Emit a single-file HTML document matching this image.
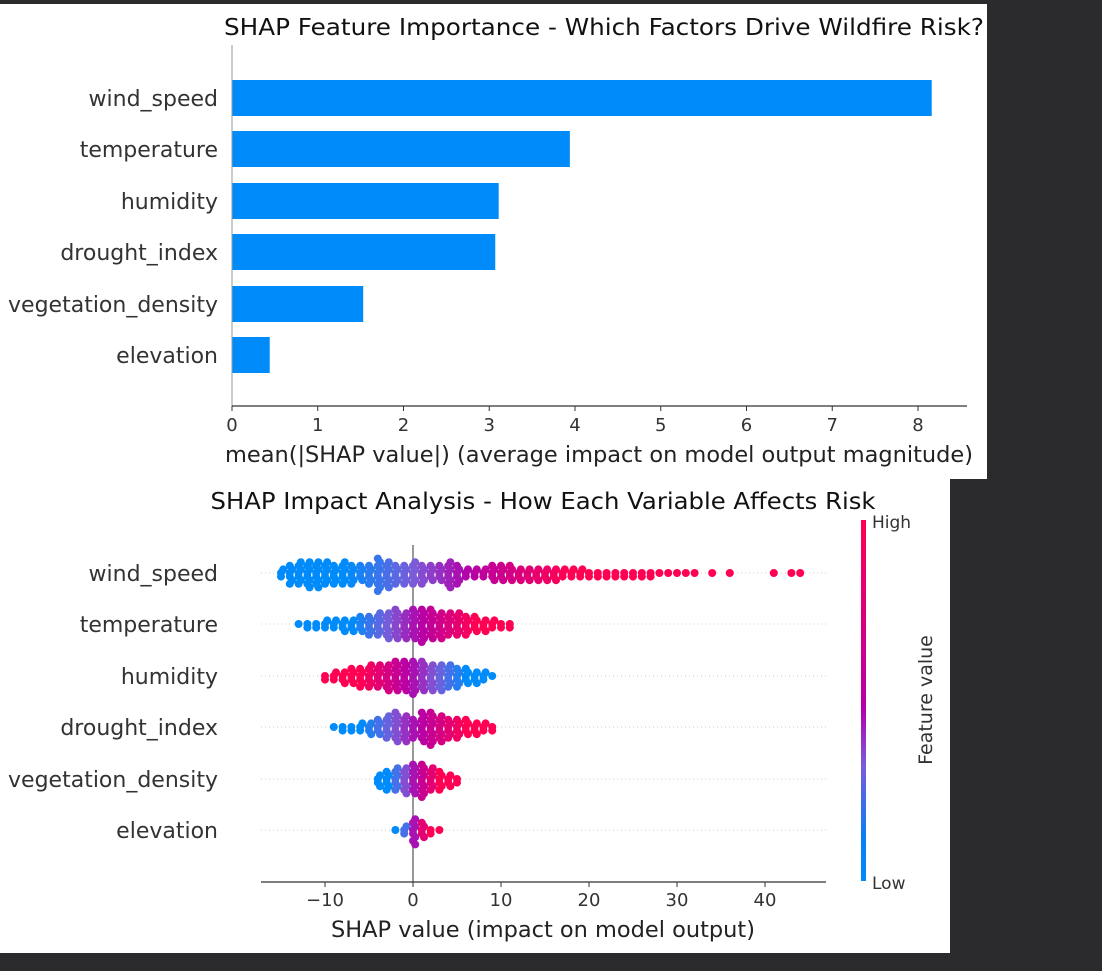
<!DOCTYPE html>
<html><head><meta charset="utf-8"><style>
body{margin:0;background:#2b2b2d;width:1102px;height:967px;overflow:hidden;font-family:"DejaVu Sans","Liberation Sans",sans-serif}
</style></head><body>
<svg id="svg" width="1102" height="967" xmlns="http://www.w3.org/2000/svg">
<defs><linearGradient id="cg" x1="0" y1="1" x2="0" y2="0">
<stop offset="0" stop-color="#008bfb"/><stop offset="0.12" stop-color="#0a7ef5"/><stop offset="0.32" stop-color="#7b5bd8"/><stop offset="0.48" stop-color="#b400a8"/><stop offset="1" stop-color="#ff0052"/></linearGradient></defs>
<rect x="0" y="4" width="987" height="475" fill="#fff"/>
<rect x="0" y="479" width="950" height="474" fill="#fff"/>
<g id="topg"></g>
<g id="botg"></g>
</svg>
<script>
const features=["wind_speed","temperature","humidity","drought_index","vegetation_density","elevation"];
const meanAbs=[8.16,3.94,3.11,3.07,1.53,0.44];
const topTicks=[0,1,2,3,4,5,6,7,8];
const botTicks=[-10,0,10,20,30,40];
const binStart=[-15,-13,-10,-9,-4,-2];
const windCounts=[3,6,7,8,8,7,6,7,6,5,6,10,8,6,6,7,6,5,5,8,6,3,3,3,5,5,5,4,4,4,4,4,3,3,3,2,2,2,2,2,2,2,2,1,1,1,1,1,0,1,0,1,0,0,0,0,1,0,1,1];
const tempCounts=[1,2,2,3,3,4,4,5,6,7,8,9,8,9,10,9,8,7,7,6,5,4,3,2,2];
const humCounts=[2,3,4,5,6,7,7,8,9,9,10,9,8,8,7,6,5,4,3,1];
const droughtCounts=[1,2,2,3,4,5,7,9,8,6,9,10,8,6,6,5,4,3,2];
const vegCounts=[4,6,7,8,9,10,7,6,4,2];
const elevCounts=[1,3,8,5,2,1];
const colorMid=[5,0,0,0,0,0];
const colorSpan=[25,14,12,12,6,3];
const colorDir=[1,1,-1,1,1,1];

const NS="http://www.w3.org/2000/svg";
function mk(p,tag,a,txt){const e=document.createElementNS(NS,tag);for(const k in a)e.setAttribute(k,a[k]);if(txt!==undefined)e.textContent=txt;p.appendChild(e);return e;}
const rowsY=[98,149,201,252,304,355];
const topG=document.getElementById('topg');
const xT=v=>232+v*85.75;
let t=mk(topG,'text',{x:604,y:35,'text-anchor':'middle','font-size':'23',fill:'#111',textLength:760,lengthAdjust:'spacingAndGlyphs'},"SHAP Feature Importance - Which Factors Drive Wildfire Risk?");

features.forEach((f,i)=>{
  const r=mk(topG,'rect',{x:xT(0),y:rowsY[i]-18,width:xT(meanAbs[i])-xT(0),height:36,fill:'#008bfb'});
  
  const l=mk(topG,'text',{x:218,y:rowsY[i]+8,'text-anchor':'end','font-size':'22',fill:'#333'},f);
  
});
mk(topG,'line',{x1:232,y1:45,x2:232,y2:406,stroke:'#999','stroke-width':1});
mk(topG,'line',{x1:232,y1:406,x2:967,y2:406,stroke:'#333','stroke-width':1.2});
topTicks.forEach(v=>{mk(topG,'line',{x1:xT(v),y1:406,x2:xT(v),y2:411,stroke:'#333'});
  const l=mk(topG,'text',{x:xT(v),y:431,'text-anchor':'middle','font-size':'18',fill:'#333'},v);
  });
t=mk(topG,'text',{x:599,y:462,'text-anchor':'middle','font-size':'22',fill:'#222',textLength:748,lengthAdjust:'spacingAndGlyphs'},"mean(|SHAP value|) (average impact on model output magnitude)");


const botG=document.getElementById('botg');
const bY=[573,624,676,727,779,830];
const xB=v=>413+v*8.8;
t=mk(botG,'text',{x:543,y:509,'text-anchor':'middle','font-size':'23',fill:'#111',textLength:665,lengthAdjust:'spacingAndGlyphs'},"SHAP Impact Analysis - How Each Variable Affects Risk");

features.forEach((f,i)=>{
  mk(botG,'line',{x1:261,y1:bY[i],x2:826,y2:bY[i],stroke:'#ccc','stroke-dasharray':'1,3'});
  const l=mk(botG,'text',{x:218,y:bY[i]+8,'text-anchor':'end','font-size':'22',fill:'#333'},f);
  
});
mk(botG,'line',{x1:413,y1:545,x2:413,y2:882,stroke:'#999','stroke-width':2});
function col(tt){tt=Math.max(0,Math.min(1,tt));
  const st=[[0,[0,139,251]],[0.3,[123,91,216]],[0.55,[180,0,168]],[1,[255,0,82]]];
  for(let k=0;k<st.length-1;k++){if(tt<=st[k+1][0]){const a=st[k],b=st[k+1],u=(tt-a[0])/(b[0]-a[0]);
    return 'rgb('+a[1].map((c,j)=>Math.round(c+(b[1][j]-c)*u)).join(',')+')';}}
  return 'rgb(255,0,82)';}
const allCounts=[windCounts,tempCounts,humCounts,droughtCounts,vegCounts,elevCounts];
allCounts.forEach((cs,i)=>{
  cs.forEach((n,j)=>{const v=binStart[i]+j;
    const c=col(0.5+colorDir[i]*(v-colorMid[i])/colorSpan[i]);
    for(let k=0;k<n;k++){const off=(k%2?1:-1)*Math.ceil(k/2)*3.6;
      const dx=(k%4<2?0:2.2);
      const d=mk(botG,'circle',{cx:xB(v)+dx,cy:bY[i]+off,r:4,fill:c});
      }
  });
});
mk(botG,'line',{x1:261,y1:882,x2:826,y2:882,stroke:'#333','stroke-width':1.2});
botTicks.forEach(v=>{mk(botG,'line',{x1:xB(v),y1:882,x2:xB(v),y2:887,stroke:'#333'});
  const l=mk(botG,'text',{x:xB(v),y:906,'text-anchor':'middle','font-size':'18',fill:'#333'},v<0?'\u2212'+(-v):v);
  });
t=mk(botG,'text',{x:543,y:937,'text-anchor':'middle','font-size':'22',fill:'#222',textLength:424,lengthAdjust:'spacingAndGlyphs'},"SHAP value (impact on model output)");

const cb=mk(botG,'rect',{x:861,y:520,width:5,height:361,fill:'url(#cg)'});

t=mk(botG,'text',{x:872,y:528,'font-size':'17',fill:'#333'},"High");
t=mk(botG,'text',{x:872,y:889,'font-size':'17',fill:'#333'},"Low");
t=mk(botG,'text',{x:932,y:700,'text-anchor':'middle','font-size':'19',fill:'#333',transform:'rotate(-90 932 700)'},"Feature value");

</script>
</body></html>
